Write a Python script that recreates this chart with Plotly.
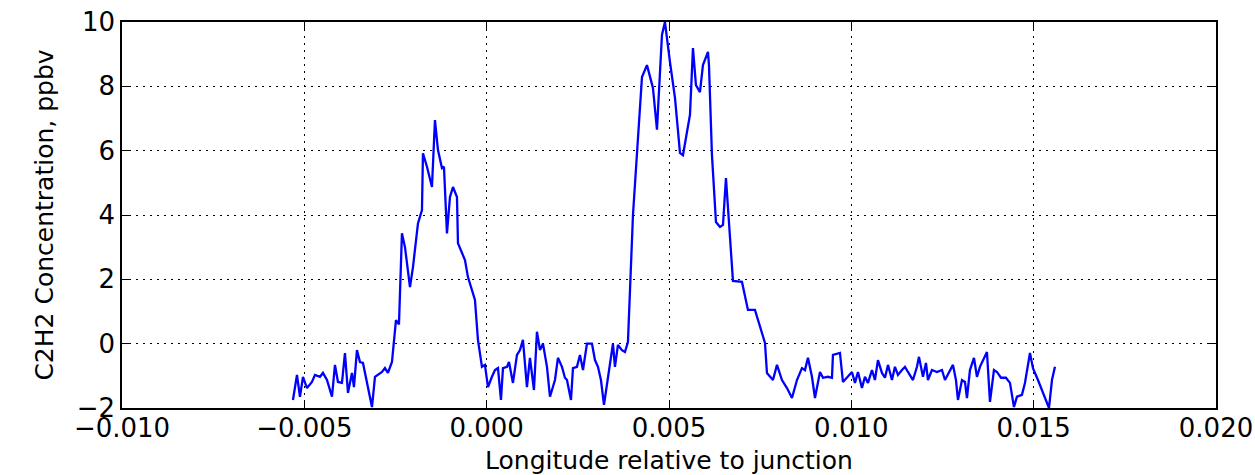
import plotly.graph_objects as go

# Longitude relative to junction (degrees)
lon = [
    -0.005312, -0.005202, -0.005120, -0.005037, -0.004928, -0.004791, -0.004708, -0.004571,
    -0.004489, -0.004379, -0.004242, -0.004160, -0.004078, -0.003968, -0.003886, -0.003803,
    -0.003694, -0.003639, -0.003557, -0.003474, -0.003392, -0.003282, -0.003145, -0.003063,
    -0.002981, -0.002871, -0.002789, -0.002707, -0.002597, -0.002487, -0.002405, -0.002323,
    -0.002240, -0.002103, -0.002021, -0.001884, -0.001774, -0.001747, -0.001637, -0.001500,
    -0.001418, -0.001335, -0.001226, -0.001171, -0.001089, -0.001006, -0.000924, -0.000814,
    -0.000787, -0.000677, -0.000595, -0.000513, -0.000403, -0.000321, -0.000239, -0.000129,
    -0.000047, 0.000036, 0.000145, 0.000228, 0.000310, 0.000392, 0.000447, 0.000557,
    0.000612, 0.000721, 0.000831, 0.000913, 0.000995, 0.001105, 0.001187, 0.001297,
    0.001379, 0.001462, 0.001544, 0.001654, 0.001736, 0.001873, 0.001955, 0.002065,
    0.002147, 0.002202, 0.002312, 0.002367, 0.002476, 0.002558, 0.002641, 0.002750,
    0.002888, 0.002970, 0.003052, 0.003134, 0.003217, 0.003299, 0.003381, 0.003463,
    0.003518, 0.003600, 0.003710, 0.003792, 0.003874, 0.004012, 0.004259, 0.004396,
    0.004560, 0.004670, 0.004807, 0.004889, 0.005026, 0.005164, 0.005301, 0.005383,
    0.005493, 0.005575, 0.005657, 0.005739, 0.005849, 0.005931, 0.006069, 0.006096,
    0.006178, 0.006288, 0.006398, 0.006480, 0.006562, 0.006617, 0.006754, 0.007001,
    0.007165, 0.007357, 0.007494, 0.007632, 0.007686, 0.007851, 0.007961, 0.008098,
    0.008235, 0.008372, 0.008509, 0.008646, 0.008728, 0.008811, 0.008920, 0.009003,
    0.009140, 0.009222, 0.009359, 0.009469, 0.009496, 0.009688, 0.009770, 0.009908,
    0.010017, 0.010100, 0.010182, 0.010291, 0.010374, 0.010456, 0.010566, 0.010648,
    0.010730, 0.010840, 0.010922, 0.011005, 0.011114, 0.011196, 0.011279, 0.011388,
    0.011471, 0.011553, 0.011690, 0.011800, 0.011855, 0.011964, 0.012047, 0.012101,
    0.012211, 0.012348, 0.012485, 0.012568, 0.012650, 0.012787, 0.012869, 0.012924,
    0.013034, 0.013116, 0.013171, 0.013253, 0.013363, 0.013445, 0.013527, 0.013610,
    0.013719, 0.013802, 0.013911, 0.013994, 0.014103, 0.014240, 0.014350, 0.014460,
    0.014542, 0.014679, 0.014761, 0.014899, 0.014981, 0.015118, 0.015255, 0.015420,
    0.015502, 0.015584,
]

# C2H2 concentration (ppbv)
c2h2 = [
    -1.75, -0.97, -1.65, -1.03, -1.38, -1.19, -0.97, -1.03,
    -0.91, -1.13, -1.65, -0.66, -1.19, -1.22, -0.29, -1.53,
    -0.91, -1.35, -0.20, -0.57, -0.60, -1.22, -1.97, -1.03,
    -0.97, -0.88, -0.76, -0.91, -0.57, 0.73, 0.60, 3.43,
    3.00, 1.76, 2.38, 3.74, 4.15, 5.92, 5.50, 4.87,
    6.95, 6.02, 5.46, 5.50, 3.43, 4.56, 4.87, 4.56,
    3.12, 2.85, 2.60, 2.07, 1.67, 1.36, 0.12, -0.72,
    -0.66, -1.35, -1.03, -0.82, -0.76, -1.75, -0.76, -0.72,
    -0.57, -1.22, -0.35, -0.20, 0.12, -1.35, -0.44, -1.44,
    0.37, -0.20, 0.00, -0.72, -1.65, -1.13, -0.44, -0.72,
    -1.06, -1.13, -1.75, -0.76, -0.72, -0.35, -0.82, 0.00,
    0.00, -0.51, -0.72, -1.13, -1.90, -1.22, -0.57, 0.00,
    -0.72, -0.04, -0.20, -0.26, 0.05, 4.00, 8.29, 8.66,
    7.95, 6.65, 9.60, 10.00, 8.76, 7.64, 5.93, 5.86,
    6.58, 7.11, 9.19, 8.04, 7.82, 8.66, 9.07, 8.66,
    5.86, 3.78, 3.63, 3.69, 5.15, 4.31, 1.95, 1.92,
    1.05, 1.05, 0.52, 0.02, -0.91, -1.13, -0.66, -1.13,
    -1.38, -1.69, -1.13, -0.76, -0.82, -0.44, -1.03, -1.69,
    -0.88, -1.06, -1.03, -1.06, -0.35, -0.29, -1.19, -1.03,
    -0.88, -1.22, -0.88, -1.38, -1.03, -1.22, -0.82, -1.13,
    -0.51, -0.91, -1.06, -0.66, -1.13, -0.72, -0.97, -0.82,
    -0.72, -0.88, -1.13, -0.72, -0.41, -1.03, -0.60, -1.13,
    -0.82, -0.88, -0.82, -1.13, -0.97, -0.66, -1.13, -1.75,
    -1.13, -1.19, -1.69, -0.82, -0.44, -1.03, -0.72, -0.51,
    -0.26, -1.81, -0.82, -0.88, -1.06, -1.06, -1.22, -1.97,
    -1.65, -1.59, -1.22, -0.29, -0.76, -1.13, -1.50, -2.00,
    -1.13, -0.72,
]

x_ticks = [-0.010, -0.005, 0.000, 0.005, 0.010, 0.015, 0.020]
y_ticks = [-2, 0, 2, 4, 6, 8, 10]

font_family = "DejaVu Sans, Arial, sans-serif"

fig = go.Figure()
fig.add_trace(go.Scatter(
    x=lon, y=c2h2, mode="lines",
    line=dict(color="#0000ff", width=2.3),
    showlegend=False,
))

axis_common = dict(
    showline=True, linecolor="black", linewidth=1.5, mirror="ticks",
    ticks="inside", ticklen=8, tickwidth=1, tickcolor="black",
    showgrid=True, gridcolor="black", gridwidth=1, griddash="2px,5px",
    zeroline=False, automargin=False,
    tickfont=dict(family=font_family, size=26, color="black"),
)

fig.update_xaxes(
    range=[-0.010, 0.020], tickvals=x_ticks, tickformat=".3f",
    ticklabelstandoff=-4,
    title=dict(text="Longitude relative to junction",
               font=dict(family=font_family, size=25, color="black"), standoff=13),
    **axis_common,
)
fig.update_yaxes(
    range=[-2, 10], tickvals=y_ticks,
    title=dict(text="C2H2 Concentration, ppbv",
               font=dict(family=font_family, size=25, color="black"), standoff=16),
    **axis_common,
)

fig.update_layout(
    width=1255, height=475,
    margin=dict(l=122, r=39, t=22, b=67),
    paper_bgcolor="white", plot_bgcolor="white",
    font=dict(family=font_family, color="black"),
)

fig.write_html("out.html")
